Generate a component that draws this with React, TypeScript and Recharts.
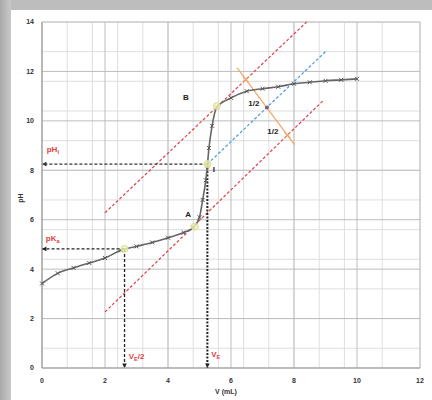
import React from 'react';
import { ComposedChart, Line, XAxis, YAxis, CartesianGrid, ReferenceLine, ReferenceDot } from 'recharts';

// titration curve
const volume = [0, 0.5, 1, 1.5, 2, 2.5, 3, 3.5, 4, 4.5, 4.8, 5, 5.1, 5.2, 5.25, 5.3, 5.4, 5.55, 6, 6.5, 7, 7.5, 8, 8.5, 9, 9.5, 10];
const pH = [3.42, 3.83, 4.05, 4.25, 4.45, 4.76, 4.92, 5.08, 5.27, 5.48, 5.68, 6.1, 6.8, 7.6, 8.2, 8.9, 9.8, 10.55, 10.93, 11.2, 11.3, 11.38, 11.5, 11.56, 11.62, 11.66, 11.7];

const xTicks = [0, 2, 4, 6, 8, 10, 12];
const yTicks = [0, 2, 4, 6, 8, 10, 12, 14];

// key points
const vE = 5.25;
const pHI = 8.25;
const vHalf = 2.62;
const pKa = 4.82;

// tangents and construction lines [start, end]
const upperTangent = [{ x: 2.0, y: 6.28 }, { x: 8.4, y: 14.0 }];
const lowerTangent = [{ x: 2.0, y: 2.27 }, { x: 8.95, y: 10.85 }];
const middleLine = [{ x: vE, y: pHI }, { x: 9.0, y: 12.8 }];
const perpLine = [{ x: 6.19, y: 12.15 }, { x: 8.02, y: 9.03 }];
const perpCrosses = [{ x: 6.47, y: 11.67 }, { x: 7.79, y: 9.42 }];
const perpMid = { x: 7.14, y: 10.54 };
const highlightPoints = [{ x: vE, y: pHI }, { x: vHalf, y: pKa }, { x: 4.85, y: 5.72 }, { x: 5.55, y: 10.6 }];

const curveData = volume.map((v, i) => ({ v, pH: pH[i] }));

const makeGrid = (max: number, step: number) => Array.from({ length: Math.round(max / step) + 1 }, (_, i) => +(i * step).toFixed(2));
const minorX = makeGrid(12, 0.4);
const minorY = makeGrid(14, 0.4);

const arrowLine = (color: string, width: number, dash: string) => (p: any) => {
  const { x1, y1, x2, y2 } = p;
  const ang = Math.atan2(y2 - y1, x2 - x1);
  const s = 5;
  const a1 = ang + Math.PI * 0.85;
  const a2 = ang - Math.PI * 0.85;
  return (
    <g>
      <line x1={x1} y1={y1} x2={x2} y2={y2} stroke={color} strokeWidth={width} strokeDasharray={dash} />
      <path d={`M${x2},${y2}L${x2 + s * Math.cos(a1)},${y2 + s * Math.sin(a1)}L${x2 + s * Math.cos(a2)},${y2 + s * Math.sin(a2)}Z`} fill={color} />
    </g>
  );
};

const crossDot = (color: string, r: number) => (p: any) => (
  <path d={`M${p.cx - r},${p.cy - r}L${p.cx + r},${p.cy + r}M${p.cx - r},${p.cy + r}L${p.cx + r},${p.cy - r}`} stroke={color} strokeWidth={1.2} fill="none" />
);

const textLabel = (main: string, sub: string | null, color: string, size: number, suffix = '') => (p: any) => (
  <text x={p.cx} y={p.cy} fill={color} fontSize={size} fontWeight="bold" fontFamily="Liberation Sans, Arial, sans-serif">
    {main}
    {sub && <tspan fontSize={size * 0.7} dy={2}>{sub}</tspan>}
    {suffix && <tspan dy={sub ? -2 : 0}>{suffix}</tspan>}
  </text>
);

const tickStyle = { fontSize: 7, fontWeight: 'bold' as const, fill: '#333', fontFamily: 'Liberation Sans, Arial, sans-serif' };

export default function App() {
  return (
    <div style={{ position: 'absolute', left: 0, top: 0, width: 432, height: 400, background: 'linear-gradient(90deg, #a9a9a9 0px, #c9c9c9 11px, #bdbdbd 11px)' }}>
      <div style={{ position: 'absolute', left: 11, top: 10, right: 0, bottom: 0, background: '#fff' }} />
      <div style={{ position: 'absolute', left: 0, top: 0 }}>
        <ComposedChart width={432} height={400} data={curveData} margin={{ top: 22, right: 12, bottom: 0, left: 0 }}>
          <CartesianGrid stroke="#dedede" horizontalValues={minorY} verticalValues={minorX} />
          <CartesianGrid stroke="#bdbdbd" horizontalValues={yTicks} verticalValues={xTicks} />
          <XAxis dataKey="v" type="number" domain={[0, 12]} ticks={xTicks} height={32} stroke="#999" tickLine={false} tickMargin={4} tick={tickStyle}
            label={{ content: () => <text x={226} y={394} textAnchor="middle" style={tickStyle}>V (mL)</text> }} />
          <YAxis type="number" domain={[0, 14]} ticks={yTicks} width={42} stroke="#999" tickLine={false} tick={tickStyle}
            label={{ content: () => <text x={23} y={198} textAnchor="middle" transform="rotate(-90 23 198)" style={tickStyle}>pH</text> }} />

          <ReferenceLine segment={upperTangent} stroke="#e0404a" strokeWidth={1.2} strokeDasharray="3 2" />
          <ReferenceLine segment={lowerTangent} stroke="#e0404a" strokeWidth={1.2} strokeDasharray="3 2" />
          <ReferenceLine segment={middleLine} stroke="#4a9be0" strokeWidth={1.2} strokeDasharray="3 2" />
          <ReferenceLine segment={perpLine} stroke="#f0a860" strokeWidth={1.2} />

          <ReferenceLine segment={[{ x: vE, y: pHI }, { x: 0, y: pHI }]} shape={arrowLine('#333', 1.3, '3 2')} />
          <ReferenceLine segment={[{ x: vHalf, y: pKa }, { x: 0, y: pKa }]} shape={arrowLine('#222', 1.3, '3 2')} />
          <ReferenceLine segment={[{ x: vHalf, y: pKa }, { x: vHalf, y: 0 }]} shape={arrowLine('#222', 1.3, '3 2')} />
          <ReferenceLine segment={[{ x: vE, y: pHI }, { x: vE, y: 0 }]} shape={arrowLine('#222', 2, '2 1.5')} />

          <Line dataKey="pH" type="monotone" stroke="#666" strokeWidth={1.6} isAnimationActive={false}
            dot={(p: any) => <path key={p.index} d={`M${p.cx - 2},${p.cy - 2}L${p.cx + 2},${p.cy + 2}M${p.cx - 2},${p.cy + 2}L${p.cx + 2},${p.cy - 2}`} stroke="#555" strokeWidth={1} />} />

          {highlightPoints.map((pt, i) => (
            <ReferenceDot key={i} x={pt.x} y={pt.y} r={3.5} fill="#eef3b8" stroke="#d8e090" fillOpacity={0.8} />
          ))}
          {perpCrosses.map((pt, i) => (
            <ReferenceDot key={'c' + i} x={pt.x} y={pt.y} shape={crossDot('#f0a860', 3)} />
          ))}
          <ReferenceDot x={perpMid.x} y={perpMid.y} r={2} fill="#8a5a7a" stroke="none" />

          <ReferenceDot x={0.15} y={8.75} shape={textLabel('pH', 'I', '#e04040', 8)} />
          <ReferenceDot x={0.12} y={5.15} shape={textLabel('pK', 'a', '#e04040', 8)} />
          <ReferenceDot x={2.75} y={0.35} shape={textLabel('V', 'E', '#e04040', 8, '/2')} />
          <ReferenceDot x={5.37} y={0.45} shape={textLabel('V', 'E', '#e04040', 8)} />
          <ReferenceDot x={4.48} y={10.85} shape={textLabel('B', null, '#222', 8)} />
          <ReferenceDot x={4.55} y={6.1} shape={textLabel('A', null, '#222', 8)} />
          <ReferenceDot x={5.42} y={7.95} shape={textLabel('I', null, '#222', 8)} />
          <ReferenceDot x={6.55} y={10.6} shape={textLabel('1/2', null, '#222', 8)} />
          <ReferenceDot x={7.15} y={9.45} shape={textLabel('1/2', null, '#222', 8)} />
        </ComposedChart>
      </div>
    </div>
  );
}
